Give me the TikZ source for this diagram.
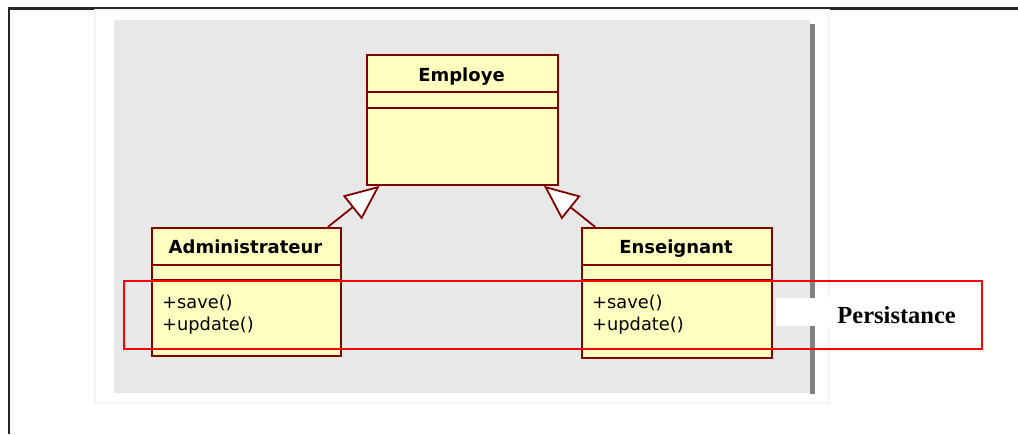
\documentclass[tikz,border=0pt]{standalone}
\usepackage{fontspec}
\newfontfamily\umlfont{DejaVu Sans}
\newfontfamily\notefont{Liberation Serif}
\usetikzlibrary{arrows.meta}
\definecolor{umlyellow}{RGB}{255,255,192}
\definecolor{umlred}{RGB}{128,0,0}
\definecolor{panelgrey}{RGB}{232,232,232}
\definecolor{shadowgrey}{RGB}{128,128,128}

\begin{document}
\begin{tikzpicture}[x=1pt, y=-1pt,
    class/.style={draw=umlred, fill=umlyellow, line width=1.8pt, inner sep=0pt, anchor=north west},
    classname/.style={font=\umlfont\bfseries\fontsize{18}{20}\selectfont, anchor=base, inner sep=0pt},
    method/.style={font=\umlfont\fontsize{17.8}{20}\selectfont, anchor=base west, inner sep=0pt},
    inherit/.style={draw=umlred, line width=1.8pt, -{Triangle[length=35pt, width=30pt, fill=white]}}]
  \useasboundingbox (0,0) rectangle (1018,434);
  \draw [line width=2.2pt, black!85] (9,434) -- (9,8.5) -- (1018,8.5);
  \draw [fill=white, draw=black!4, line width=1.5pt] (95,10) rectangle (829,403);
  \fill [panelgrey] (114,20) rectangle (810,393);
  \fill [shadowgrey] (810,24) rectangle (815,394);

  \node [class, minimum width=191pt, minimum height=130pt] (employe) at (366,54) {};
  \node [classname] (employe-name) at (461.5,81) {Employe};
  \draw [umlred, line width=1.8pt] (366,92) -- (559,92) (366,108) -- (559,108);

  \node [class, minimum width=189pt, minimum height=128pt] (admin) at (151,227) {};
  \node [classname] (admin-name) at (245.5,253) {Administrateur};
  \draw [umlred, line width=1.8pt] (151,265) -- (342,265) (151,280) -- (342,280);
  \node [method] (admin-save) at (162,308) {+save()};
  \node [method] (admin-update) at (162,330) {+update()};

  \node [class, minimum width=190pt, minimum height=130pt] (ens) at (581,227) {};
  \node [classname] (ens-name) at (676,253) {Enseignant};
  \draw [umlred, line width=1.8pt] (581,265) -- (773,265) (581,280) -- (773,280);
  \node [method] (ens-save) at (592,308) {+save()};
  \node [method] (ens-update) at (592,330) {+update()};

  \draw [inherit] (admin) -- (employe);
  \draw [inherit] (ens) -- (employe);

  \node [draw=red, line width=1.8pt, minimum width=858pt, minimum height=68pt, inner sep=0pt, anchor=north west] (persistance) at (123,280) {};
  \node [fill=white, minimum width=182pt, minimum height=28pt, inner sep=0pt, anchor=north west] (persist-bg) at (776,298) {};
  \node [font=\notefont\bfseries\fontsize{24.5}{28}\selectfont, anchor=base east, inner sep=0pt] (persist-label) at (956,323) {Persistance};
\end{tikzpicture}
\end{document}
